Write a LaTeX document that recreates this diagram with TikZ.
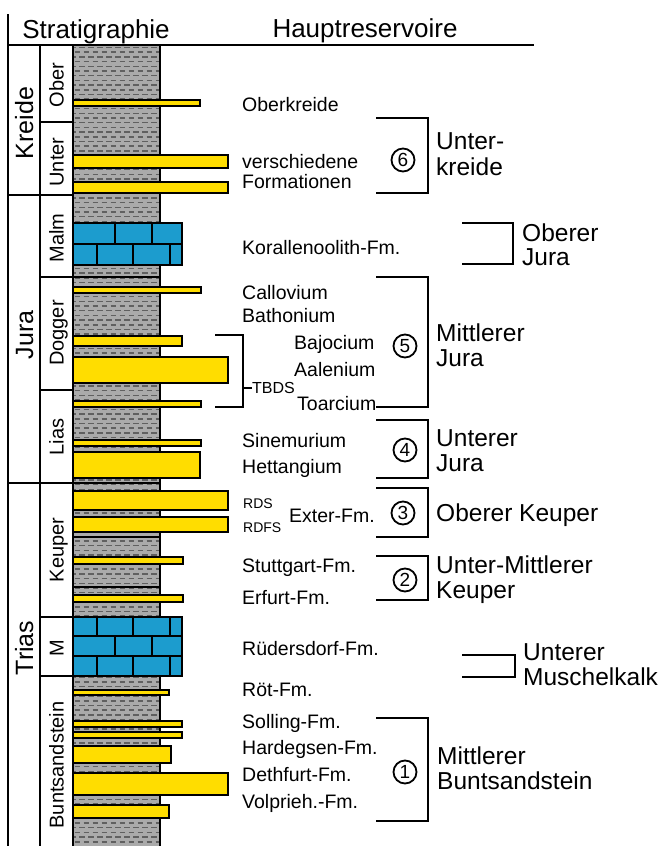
\documentclass[tikz,border=0pt]{standalone}
\usepackage{fontspec}
\setmainfont{Liberation Sans}
\definecolor{sandy}{RGB}{255,221,0}
\definecolor{limeblue}{RGB}{28,156,206}
\definecolor{shale}{RGB}{170,170,170}
\definecolor{shaledash}{RGB}{96,96,96}
\tikzset{
  frame/.style={line width=2pt, line cap=rect},
  head/.style={inner sep=0pt, text height=18.6pt, text depth=0pt, font=\fontsize{26}{28}\selectfont},
  period/.style={rotate=90, inner sep=0pt, text height=18pt, text depth=0pt, font=\fontsize{25}{26}\selectfont},
  epoch/.style={rotate=90, inner sep=0pt, text height=14.3pt, text depth=0pt, font=\fontsize{20}{21}\selectfont},
  res/.style={anchor=west, inner sep=0pt, text height=14pt, text depth=0pt, font=\fontsize{19.5}{20}\selectfont},
  tiny/.style={anchor=west, inner sep=0pt, text height=10pt, text depth=0pt, font=\fontsize{14}{15}\selectfont},
  big/.style={anchor=west, inner sep=0pt, text height=17.5pt, text depth=0pt, font=\fontsize{24.5}{25}\selectfont},
  circnum/.style={circle, draw, line width=1.8pt, minimum size=23pt, inner sep=0pt, font=\fontsize{19}{19}\selectfont},
  bracket/.style={line width=2.6pt, line cap=rect},
  thinbracket/.style={line width=1.2pt},
  sandbar/.style={fill=sandy, draw=black, line width=1.7pt},
  limestone/.style={fill=limeblue, draw=black, line width=1.7pt},
  bedline/.style={line width=1.6pt}
}
\begin{document}
\begin{tikzpicture}[x=1pt, y=-1pt]
\useasboundingbox (0,0) rectangle (670,846);

% lithology column: shale with dash pattern
\begin{scope}
  \clip (73,45) rectangle (160,846);
  \fill[shale] (73,45) rectangle (160,846);
  \foreach \k in {0,...,171} {
    \pgfmathsetmacro\yy{47.5+\k*4.7}
    \pgfmathsetmacro\ph{mod(\k,2)*4.5}
    \draw[shaledash, line width=1.5pt, dash pattern=on 5.5pt off 3.5pt, dash phase=\ph pt] (70,\yy) -- (165,\yy);
  }
\end{scope}
\foreach \yy in {277,483,537,587} {
  \draw[bedline] (73,\yy) -- (160,\yy);
}

% frame of the stratigraphic table
\draw[frame] (8,15) -- (8,846);
\draw[frame] (8,45) -- (533,45);
\draw[frame] (40,45) -- (40,846);
\draw[frame] (73,45) -- (73,846);
\draw[frame] (160,45) -- (160,846);
\draw[frame] (8,195) -- (73,195);
\draw[frame] (8,483) -- (73,483);
\foreach \yy in {122,277,390,617,676} {
  \draw[frame] (40,\yy) -- (73,\yy);
}

% sandstone beds
\foreach \t/\b/\r in {100/106/200, 155/168/228, 182/193/228,
                      287/293/201, 336/346/182, 357/383/228,
                      401/407/201, 440/446/201, 452/478/200,
                      491/510/228, 517/532/228, 557/564/183, 595/602/183,
                      690/695/169, 721/727/182, 732/738/182, 746/763/171,
                      773/795/228, 805/818/169} {
  \draw[sandbar] (73,\t) rectangle (\r,\b);
}

% limestone: Malm
\draw[limestone] (73,223) rectangle (182,265);
\draw[line width=1.5pt] (73,244) -- (182,244);
\foreach \xx in {115,152} { \draw[line width=1.5pt] (\xx,223) -- (\xx,244); }
\foreach \xx in {97,133,170} { \draw[line width=1.5pt] (\xx,244) -- (\xx,265); }

% limestone: Muschelkalk
\draw[limestone] (73,617) rectangle (182,676);
\draw[line width=1.5pt] (73,636) -- (182,636);
\draw[line width=1.5pt] (73,656) -- (182,656);
\foreach \xx in {97,133,170} { \draw[line width=1.5pt] (\xx,617) -- (\xx,636); }
\foreach \xx in {115,152} { \draw[line width=1.5pt] (\xx,636) -- (\xx,656); }
\foreach \xx in {97,133,170} { \draw[line width=1.5pt] (\xx,656) -- (\xx,676); }

% headings
\node[head] (hstrat) at (96,29) {Stratigraphie};
\node[head] (hres) at (365,28) {Hauptreservoire};

% periods and epochs
\node[period] (kreide) at (24,123) {Kreide};
\node[period] (jura) at (24,335) {Jura};
\node[period] (trias) at (24,648) {Trias};
\node[epoch] (ober) at (56.5,85) {Ober};
\node[epoch] (unter) at (56.5,162) {Unter};
\node[epoch] (malm) at (56.5,238) {Malm};
\node[epoch] (dogger) at (56.5,333) {Dogger};
\node[epoch] (lias) at (56.5,437) {Lias};
\node[epoch] (keuper) at (56.5,550) {Keuper};
\node[epoch] (mkalk) at (56.5,648) {M};
\node[epoch] (bunt) at (56.5,765) {Buntsandstein};

% reservoir formations
\node[res] (oberkreide) at (242,104) {Oberkreide};
\node[res] (versch) at (242,161) {verschiedene};
\node[res] (formationen) at (242,181) {Formationen};
\node[res] (korallen) at (242,247) {Korallenoolith-Fm.};
\node[res] (callovium) at (242,292) {Callovium};
\node[res] (bathonium) at (242,315) {Bathonium};
\node[res] (bajocium) at (294,342) {Bajocium};
\node[res] (aalenium) at (294,369) {Aalenium};
\node[res] (toarcium) at (297,403) {Toarcium};
\node[tiny, font=\fontsize{16}{17}\selectfont, text height=11.5pt] (tbds) at (252,388) {TBDS};
\node[res] (sinemurium) at (242,440) {Sinemurium};
\node[res] (hettangium) at (242,466) {Hettangium};
\node[tiny] (rds) at (243,503) {RDS};
\node[tiny] (rdfs) at (243,527) {RDFS};
\node[res] (exter) at (289,515) {Exter-Fm.};
\node[res] (stuttgart) at (242,565) {Stuttgart-Fm.};
\node[res] (erfurt) at (242,597) {Erfurt-Fm.};
\node[res] (ruedersdorf) at (242,648) {Rüdersdorf-Fm.};
\node[res] (roet) at (242,689) {Röt-Fm.};
\node[res] (solling) at (242,721) {Solling-Fm.};
\node[res] (hardegsen) at (242,747) {Hardegsen-Fm.};
\node[res] (dethfurt) at (242,774) {Dethfurt-Fm.};
\node[res] (volprieh) at (242,801) {Volprieh.-Fm.};

% TBDS bracket
\coordinate (tb1) at (215,335);
\coordinate (tb2) at (243,335);
\coordinate (tb3) at (243,407);
\coordinate (tb4) at (215,407);
\draw[thinbracket] (tb1) -- (tb2) -- (tb3) -- (tb4);
\draw[thinbracket] (243,388) -- (tbds.west);

% reservoir groups: brackets, numbers, names
\draw[bracket] (377,118) -- (428,118) -- (428,193) -- (377,193);
\node[circnum] (c6) at (403,160) {6};
\node[big] (g6a) at (436,141) {Unter-};
\node[big] (g6b) at (436,167) {kreide};

\draw[bracket] (463,223) -- (513,223) -- (513,264) -- (463,264);
\node[big] (goja) at (522,233) {Oberer};
\node[big] (gojb) at (522,257) {Jura};

\draw[bracket] (377,277) -- (428,277) -- (428,407) -- (377,407);
\node[circnum] (c5) at (405,346) {5};
\node[big] (g5a) at (436,333) {Mittlerer};
\node[big] (g5b) at (436,358) {Jura};

\draw[bracket] (377,420) -- (428,420) -- (428,478) -- (377,478);
\node[circnum] (c4) at (405,450) {4};
\node[big] (g4a) at (436,438) {Unterer};
\node[big] (g4b) at (436,463) {Jura};

\draw[bracket] (377,488) -- (428,488) -- (428,537) -- (377,537);
\node[circnum] (c3) at (403,513) {3};
\node[big] (g3) at (436,513) {Oberer Keuper};

\draw[bracket] (377,556) -- (428,556) -- (428,600) -- (377,600);
\node[circnum] (c2) at (405,580) {2};
\node[big] (g2a) at (436,565) {Unter-Mittlerer};
\node[big] (g2b) at (436,590) {Keuper};

\draw[bracket] (463,655) -- (515,655) -- (515,677) -- (463,677);
\node[big] (gmka) at (523,652) {Unterer};
\node[big] (gmkb) at (523,677) {Muschelkalk};

\draw[bracket] (377,718) -- (428,718) -- (428,821) -- (377,821);
\node[circnum] (c1) at (405,772) {1};
\node[big] (g1a) at (437,756) {Mittlerer};
\node[big] (g1b) at (437,781) {Buntsandstein};
\end{tikzpicture}
\end{document}
